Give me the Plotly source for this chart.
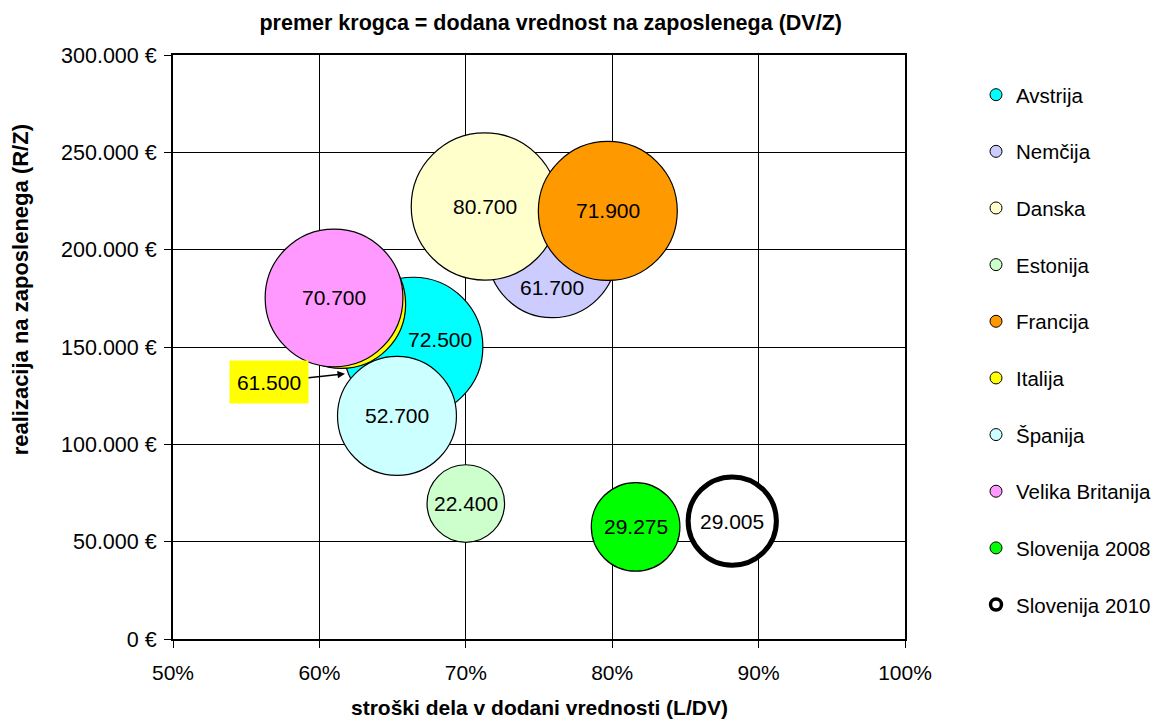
import plotly.graph_objects as go

# --- data -------------------------------------------------------------
countries = ["Avstrija", "Nemčija", "Danska", "Estonija", "Francija",
             "Italija", "Španija", "Velika Britanija",
             "Slovenija 2008", "Slovenija 2010"]
labour_cost_share = [0.664, 0.759, 0.713, 0.700, 0.797,
                     0.615, 0.653, 0.610, 0.816, 0.882]          # L/DV
revenue_per_employee = [150000, 198100, 222200, 69600, 219900,
                        172000, 114600, 175200, 57600, 60600]    # R/Z (EUR)
value_added_per_employee = [72500, 61700, 80700, 22400, 71900,
                            61500, 52700, 70700, 29275, 29005]   # DV/Z (EUR)

x_tick_values = [0.5, 0.6, 0.7, 0.8, 0.9, 1.0]
x_tick_labels = ["50%", "60%", "70%", "80%", "90%", "100%"]
y_tick_values = [0, 50000, 100000, 150000, 200000, 250000, 300000]
y_tick_labels = ["0 €", "50.000 €", "100.000 €", "150.000 €",
                 "200.000 €", "250.000 €", "300.000 €"]

# --- styling ----------------------------------------------------------
fill_colors = ["#00FFFF", "#CCCCFF", "#FFFFCC", "#CCFFCC", "#FF9900",
               "#FFFF00", "#CCFFFF", "#FF99FF", "#00FF00", "#FFFFFF"]
outline_widths = [1.2] * 9 + [5]
legend_outline_widths = [1] * 9 + [3.5]
FONT = "Liberation Sans, Arial, Helvetica, sans-serif"
SIZEREF = 7.45   # bubble area proportional to DV/Z

# label offsets (px) for labels nudged away from the bubble centre
label_shift = {"Avstrija": (27, 8), "Nemčija": (0, -34)}


def fmt_eur(v):
    return f"{v:,}".replace(",", ".")


fig = go.Figure()

for i, name in enumerate(countries):
    fig.add_trace(go.Scatter(
        x=[labour_cost_share[i]], y=[revenue_per_employee[i]],
        mode="markers", name=name, showlegend=False,
        marker=dict(size=[value_added_per_employee[i]], sizemode="area",
                    sizeref=SIZEREF, color=fill_colors[i], opacity=1,
                    line=dict(color="black", width=outline_widths[i])),
        hoverinfo="skip",
    ))

# legend entries with small constant symbols
for i, name in enumerate(countries):
    fig.add_trace(go.Scatter(
        x=[None], y=[None], mode="markers", name=name,
        legendgroup=name, showlegend=True,
        marker=dict(size=12 if i < 9 else 11, color=fill_colors[i],
                    line=dict(color="black", width=legend_outline_widths[i])),
    ))

annotations = []
for i, name in enumerate(countries):
    if name == "Italija":
        continue
    dx, dy = label_shift.get(name, (0, 0))
    annotations.append(dict(
        x=labour_cost_share[i], y=revenue_per_employee[i],
        text=fmt_eur(value_added_per_employee[i]), showarrow=False,
        xshift=dx, yshift=dy, font=dict(size=21, color="black", family=FONT),
    ))

# Italija is hidden behind Velika Britanija: label with an arrow
it = countries.index("Italija")
annotations.append(dict(
    x=0.6175, y=136200, ax=-76, ay=8,
    text=fmt_eur(value_added_per_employee[it]),
    showarrow=True, arrowhead=2, arrowsize=1, arrowwidth=1.5,
    arrowcolor="black", bgcolor="#FFFF00", borderpad=6,
    width=66, height=30,
    font=dict(size=21, color="black", family=FONT),
))

# axis titles
annotations.append(dict(
    xref="paper", yref="paper", x=0.5, y=-0.118, yanchor="middle",
    text="stroški dela v dodani vrednosti (L/DV)", showarrow=False,
    font=dict(size=21, color="black", family=FONT, weight="bold"),
))
annotations.append(dict(
    xref="paper", yref="paper", x=-0.209, y=0.597, xanchor="center",
    yanchor="middle", textangle=-90,
    text="realizacija na zaposlenega (R/Z)", showarrow=False,
    font=dict(size=22, color="black", family=FONT, weight="bold"),
))

fig.update_layout(
    width=1158, height=721,
    margin=dict(l=173, r=253, t=55, b=82, autoexpand=False),
    paper_bgcolor="white", plot_bgcolor="white",
    font=dict(family=FONT, size=21, color="black"),
    title=dict(text="premer krogca = dodana vrednost na zaposlenega (DV/Z)",
               x=0.516, xref="paper", xanchor="center",
               y=1 - 22 / 721, yanchor="middle",
               font=dict(size=21.5, color="black", family=FONT, weight="bold")),
    xaxis=dict(range=[0.5, 1.0], tickvals=x_tick_values, ticktext=x_tick_labels,
               showgrid=True, gridcolor="black", gridwidth=1,
               showline=True, linecolor="black", linewidth=2, mirror=True,
               ticks="outside", ticklen=7, tickcolor="black", tickwidth=1,
               ticklabelstandoff=7, zeroline=False, fixedrange=True),
    yaxis=dict(range=[0, 300000], tickvals=y_tick_values, ticktext=y_tick_labels,
               showgrid=True, gridcolor="black", gridwidth=1,
               showline=True, linecolor="black", linewidth=2, mirror=True,
               ticks="outside", ticklen=7, tickcolor="black", tickwidth=1,
               ticklabelstandoff=3, zeroline=False, fixedrange=True,
               tickfont=dict(size=21.5)),
    legend=dict(x=1.097, xanchor="left", y=0.966, yanchor="top",
                font=dict(size=20.5, family=FONT, color="black"),
                tracegroupgap=27, itemsizing="trace",
                bgcolor="rgba(0,0,0,0)"),
    annotations=annotations,
    showlegend=True,
)

fig.write_html("out.html")
